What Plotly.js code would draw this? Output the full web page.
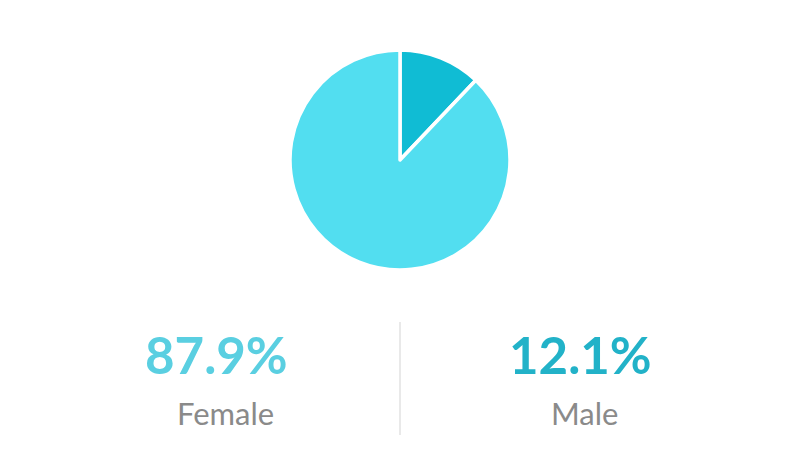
<!DOCTYPE html>
<html>
<head>
<meta charset="utf-8">
<script src="https://cdn.plot.ly/plotly-3.0.1.min.js"></script>
<style>html,body{margin:0;padding:0;background:#fff;}#chart{width:800px;height:450px;}</style>
</head>
<body>
<div id="chart"></div>
<script>
const labels = ["Male", "Female"];
const values = [12.1, 87.9];
const sliceColors = ["#10BCD4", "#52DEF0"];
const pctColors = ["#22B2C8", "#5ACFE1"];

const pctXs = [580 / 800, 216 / 800];
const nameXs = [584 / 800, 226 / 800];

const trace = {
  type: "pie",
  labels: labels,
  values: values,
  sort: false,
  direction: "clockwise",
  rotation: 0,
  textinfo: "none",
  hoverinfo: "label+percent",
  marker: {colors: sliceColors, line: {color: "#ffffff", width: 3.5}},
  domain: {x: [0.3625, 0.6375], y: [0.4, 0.889]},
  showlegend: false
};

const annotations = [];
labels.forEach((lab, i) => {
  annotations.push({
    text: values[i].toFixed(1) + "%",
    x: pctXs[i], y: 1 - 354/450, xref: "paper", yref: "paper",
    xanchor: "center", yanchor: "middle", showarrow: false,
    font: {family: "Lato", size: 51, color: pctColors[i], weight: 700}
  });
  annotations.push({
    text: lab,
    x: nameXs[i], y: 1 - 413/450, xref: "paper", yref: "paper",
    xanchor: "center", yanchor: "middle", showarrow: false,
    font: {family: "Lato", size: 31, color: "#8a8a8a"}
  });
});

const layout = {
  width: 800, height: 450,
  margin: {l: 0, r: 0, t: 0, b: 0},
  paper_bgcolor: "#ffffff",
  annotations: annotations,
  shapes: [{
    type: "line", xref: "paper", yref: "paper",
    x0: 0.5, x1: 0.5, y0: 1 - 435/450, y1: 1 - 322/450,
    line: {color: "#e2e2e2", width: 1.5}
  }]
};

Plotly.newPlot("chart", [trace], layout, {displayModeBar: false, staticPlot: true});
</script>
</body>
</html>
